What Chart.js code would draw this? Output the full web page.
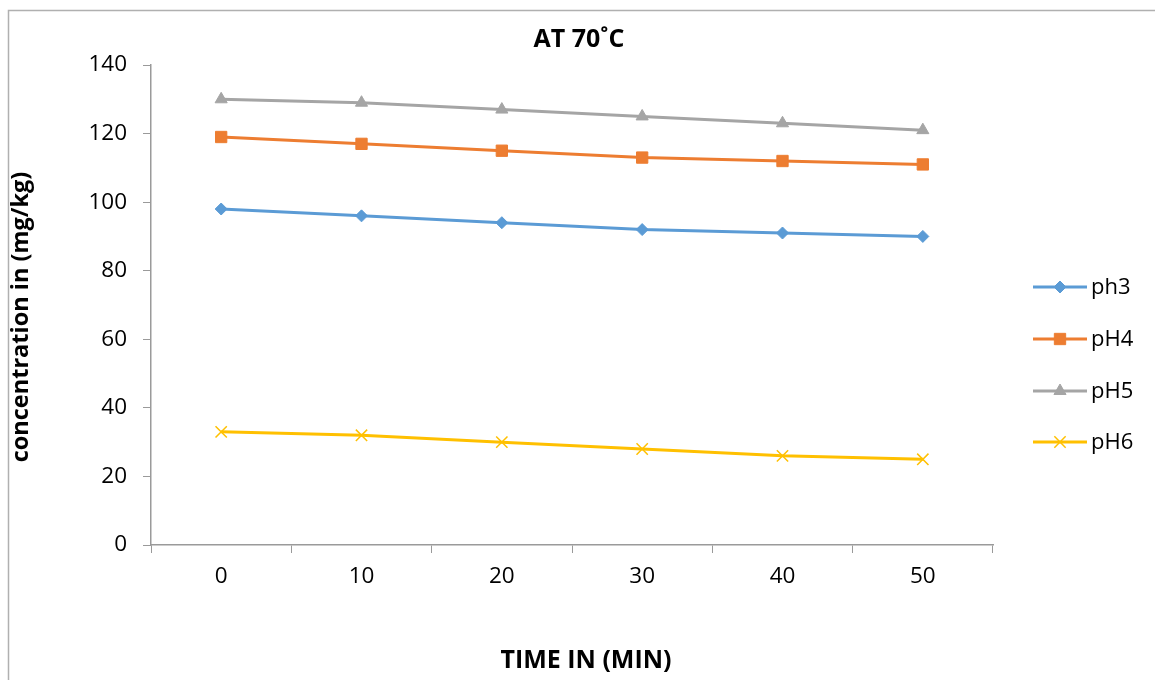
<!DOCTYPE html>
<html>
<head>
<meta charset="utf-8">
<script src="https://cdn.jsdelivr.net/npm/chart.js@4"></script>
<style>
  html, body { margin: 0; padding: 0; background: #fff; }
  #wrap { width: 1155px; height: 680px; position: relative; }
</style>
</head>
<body>
<div id="wrap"><canvas id="chart"></canvas></div>
<script>
// data
const timeLabels = ['0', '10', '20', '30', '40', '50'];
const ph3 = [98, 96, 94, 92, 91, 90];
const ph4 = [119, 117, 115, 113, 112, 111];
const ph5 = [130, 129, 127, 125, 123, 121];
const ph6 = [33, 32, 30, 28, 26, 25];
const seriesNames = ['ph3', 'pH4', 'pH5', 'pH6'];
const chartTitle = 'AT 70˚C';
const xTitle = 'TIME IN (MIN)';
const yTitle = 'concentration in (mg/kg)';

const FONT = '"Open Sans", "Liberation Sans", sans-serif';

const styles = [
    { color: '#5B9BD5', point: 'rectRot', radius: 6 },
    { color: '#ED7D31', point: 'rect', radius: 8 },
    { color: '#A5A5A5', point: 'triangle', radius: 7 },
    { color: '#FFC000', point: 'crossRot', radius: 8 }
];

const datasets = [ph3, ph4, ph5, ph6].map((vals, i) => ({
    label: seriesNames[i],
    data: vals,
    borderColor: styles[i].color,
    backgroundColor: styles[i].color,
    pointBackgroundColor: styles[i].color,
    pointBorderColor: styles[i].color,
    pointStyle: styles[i].point,
    pointRadius: styles[i].radius,
    pointBorderWidth: styles[i].point === 'crossRot' ? 1.5 : 1,
    borderWidth: 3,
    tension: 0
}));

// frame, titles and the legend with line + marker
const extras = {
    id: 'extras',
    afterDraw(chart) {
        const ctx = chart.ctx;
        ctx.save();
        ctx.strokeStyle = '#b0b0b0';
        ctx.lineWidth = 1.5;
        ctx.strokeRect(8.5, 10.5, 1200, 700);

        ctx.fillStyle = '#000';
        ctx.textAlign = 'center';
        ctx.textBaseline = 'middle';
        ctx.font = 'bold 25px ' + FONT;
        ctx.fillText(chartTitle, 579, 40);
        ctx.font = 'bold 25px ' + FONT;
        ctx.fillText(xTitle, 586, 661);
        ctx.translate(21, 317);
        ctx.rotate(-Math.PI / 2);
        ctx.font = 'bold 23.5px ' + FONT;
        ctx.fillText(yTitle, 0, 0);
        ctx.restore();

        // legend
        const ys = [287, 339, 391, 442];
        ctx.save();
        chart.data.datasets.forEach((ds, i) => {
            const y = ys[i];
            ctx.strokeStyle = ds.borderColor;
            ctx.lineWidth = 3;
            ctx.beginPath();
            ctx.moveTo(1033, y);
            ctx.lineTo(1087, y);
            ctx.stroke();
            ctx.fillStyle = ds.backgroundColor;
            ctx.strokeStyle = ds.borderColor;
            ctx.lineWidth = ds.pointBorderWidth;
            Chart.helpers.drawPoint(ctx, { pointStyle: ds.pointStyle, radius: ds.pointRadius, borderWidth: ds.pointBorderWidth, rotation: 0 }, 1060, y);
            ctx.fillStyle = '#000';
            ctx.font = '22px ' + FONT;
            ctx.textAlign = 'left';
            ctx.textBaseline = 'middle';
            ctx.fillText(ds.label, 1091, y + 1);
        });
        ctx.restore();
    }
};

new Chart(document.getElementById('chart'), {
    type: 'line',
    data: { labels: timeLabels, datasets: datasets },
    options: {
        responsive: true,
        maintainAspectRatio: false,
        animation: false,
        layout: { padding: { left: 0, right: 162, top: 65, bottom: 0 } },
        plugins: {
            legend: { display: false },
            title: { display: false },
            tooltip: { enabled: false }
        },
        scales: {
            x: {
                type: 'category',
                offset: true,
                afterFit(scale) { scale.height = 135; },
                grid: {
                    offset: true,
                    drawOnChartArea: false,
                    drawTicks: true,
                    tickLength: 8,
                    color: '#9a9a9a',
                    lineWidth: 1
                },
                border: { color: '#9a9a9a', width: 1.5 },
                ticks: {
                    color: '#000',
                    padding: 10,
                    maxRotation: 0,
                    font: { family: FONT, size: 22.5 }
                }
            },
            y: {
                min: 0,
                max: 140,
                afterFit(scale) { scale.width = 151; },
                grid: {
                    drawOnChartArea: false,
                    drawTicks: true,
                    tickLength: 8,
                    color: '#9a9a9a'
                },
                border: { color: '#9a9a9a', width: 1.5 },
                ticks: {
                    stepSize: 20,
                    color: '#000',
                    padding: 16,
                    font: { family: FONT, size: 22.5 }
                }
            }
        }
    },
    plugins: [extras]
});
</script>
</body>
</html>
